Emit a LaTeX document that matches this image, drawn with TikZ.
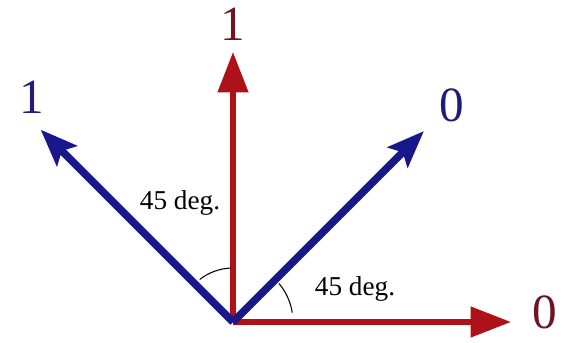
\documentclass[tikz,border=0pt]{standalone}
\usepackage{fontspec}
\setmainfont{Liberation Serif}
\usepackage{tikz}
\usetikzlibrary{arrows.meta,calc}
\usepackage{xcolor}
\definecolor{vecred}{RGB}{172,18,24}
\definecolor{vecblue}{RGB}{24,24,140}
\definecolor{labred}{RGB}{110,22,32}
\definecolor{labblue}{RGB}{30,30,120}

\begin{document}
\begin{tikzpicture}[
  x=0.02cm, y=0.02cm,
  redvec/.style={draw=vecred, line width=2.9pt, -{Triangle[length=23pt, width=17pt]}},
  bluevec/.style={draw=vecblue, line width=4.4pt, -{Stealth[length=21pt, width=16pt, inset=4pt]}},
  biglab/.style={font=\fontsize{28}{30}\selectfont, inner sep=0pt},
  anglab/.style={font=\fontsize{15.5}{17}\selectfont},
  anglearc/.style={draw=black, line width=0.6pt}
]
\useasboundingbox (0,0) rectangle (568,342);

\coordinate (o) at (233,20);
\coordinate (up) at (233,290);
\coordinate (rt) at (511,20);
\coordinate (ul) at ($(o)+(135:272)$);
\coordinate (ur) at ($(o)+(45:270)$);

\draw[redvec] (o) -- (up);
\draw[redvec] (o) -- (rt);
\draw[bluevec] (o) -- (ul);
\draw[bluevec] (o) -- (ur);

\draw[anglearc] ($(o)+(128:54)$) arc[start angle=128, end angle=92, radius=54];
\draw[anglearc] ($(o)+(40:60)$) arc[start angle=40, end angle=9, radius=60];

\node[biglab, text=labred] (lup) at (233,318) {1};
\node[biglab, text=labred] (lrt) at (545,30) {0};
\node[biglab, text=labblue] (lul) at (32,245) {1};
\node[biglab, text=labblue] (lur) at (452,237) {0};

\node[anglab] (degl) at (180,139) {45 deg.};
\node[anglab] (degr) at (355,53) {45 deg.};
\end{tikzpicture}
\end{document}
